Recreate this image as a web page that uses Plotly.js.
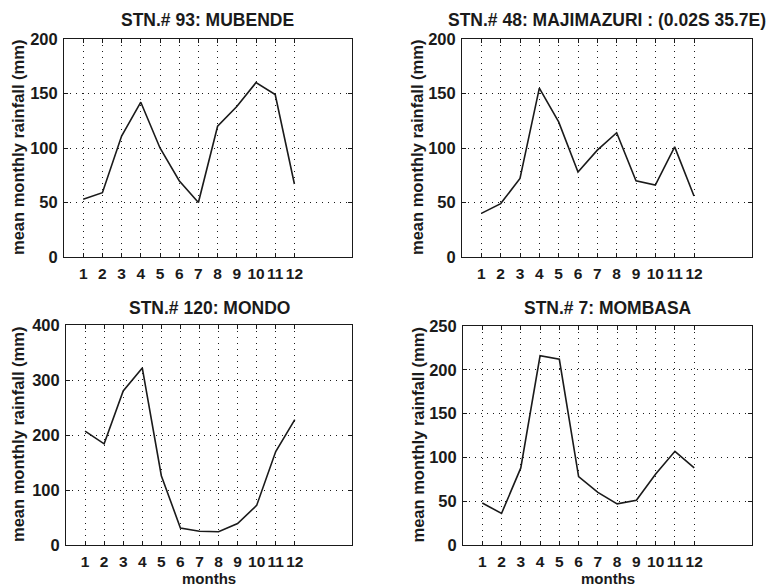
<!DOCTYPE html>
<html>
<head>
<meta charset="utf-8">
<script src="https://cdn.plot.ly/plotly-3.0.1.min.js"></script>
<style>html,body{margin:0;padding:0;background:#fff;}#chart{width:773px;height:588px;}</style>
</head>
<body>
<div id="chart"></div>
<script>
const months = [1,2,3,4,5,6,7,8,9,10,11,12];
const monthLabels = ["1","2","3","4","5","6","7","8","9","10","11","12"];
const mubende = [53,59,111,142,100,70,50,120,138,160,149,67];
const majimazuri = [40,49,72,155,124,78,98,114,70,66,101,56];
const mondo = [207,184,280,322,126,31,25,24,39,72,170,228];
const mombasa = [48,36,88,216,212,78,60,47,51,81,107,88];

const titles = ["STN.# 93: MUBENDE","STN.# 48: MAJIMAZURI : (0.02S 35.7E)","STN.# 120: MONDO","STN.# 7: MOMBASA"];
const yTicks = [[0,50,100,150,200],[0,50,100,150,200],[0,100,200,300,400],[0,50,100,150,200,250]];
const yMax = [200,200,400,250];
const series = [mubende, majimazuri, mondo, mombasa];
const yTitle = "mean monthly rainfall (mm)";
const xTitle = "months";

const W = 773, H = 588;
// pixel boxes [left, right, top, bottom]
const boxes = [[64,352,39,257],[462,752,39,257],[66,352,325,545],[463,752,326,545]];
const FONT = "Liberation Sans, Arial, Helvetica, sans-serif";
const ink = "#1a1a1a";

const data = [];
const layout = {
  width: W, height: H,
  margin: {l:0,r:0,t:0,b:0},
  paper_bgcolor: "#fff", plot_bgcolor: "#fff",
  showlegend: false,
  font: {family: FONT, color: ink, size: 16, weight: "bold"},
  annotations: []
};

series.forEach((vals, i) => {
  const n = i + 1;
  const xa = "x" + (n === 1 ? "" : n), ya = "y" + (n === 1 ? "" : n);
  data.push({x: months, y: vals, xaxis: xa, yaxis: ya, type: "scatter", mode: "lines",
    line: {color: ink, width: 1.6}, hoverinfo: "skip"});
  const b = boxes[i];
  const common = {
    showline: true, mirror: "ticks", linecolor: ink, linewidth: 1,
    ticks: "inside", ticklen: 4, tickcolor: ink, tickwidth: 1,
    showgrid: true, gridcolor: ink, gridwidth: 1, griddash: "1px,5px",
    zeroline: false, fixedrange: true,
    tickfont: {family: FONT, size: 16.5, color: ink, weight: "bold"}
  };
  layout["xaxis" + (n === 1 ? "" : n)] = Object.assign({}, common, {
    domain: [b[0]/W, b[1]/W], anchor: ya, range: [0, 15], tickangle: 0,
    tickmode: "array", tickvals: months, ticktext: monthLabels, ticklabelstandoff: 2,
    tickfont: {family: FONT, size: 15.5, color: ink, weight: "bold"}
  });
  layout["yaxis" + (n === 1 ? "" : n)] = Object.assign({}, common, {
    domain: [1 - b[3]/H, 1 - b[2]/H], anchor: xa, range: [0, yMax[i]],
    tickmode: "array", tickvals: yTicks[i], ticklabelstandoff: 2
  });
  const cx = (b[0] + b[1]) / 2 / W;
  layout.annotations.push({text: titles[i], xref: "paper", yref: "paper",
    x: cx, y: 1 - (i < 2 ? 20 : 308)/H, xanchor: "center", yanchor: "middle",
    showarrow: false, font: {family: FONT, size: 17.5, color: ink, weight: "bold"}});
  layout.annotations.push({text: yTitle, xref: "paper", yref: "paper",
    x: (i % 2 === 0 ? 18 : 417)/W, y: 1 - (b[2] + b[3]) / 2 / H, textangle: -90,
    xanchor: "center", yanchor: "middle", showarrow: false,
    font: {family: FONT, size: 16.5, color: ink, weight: "bold"}});
  if (i >= 2) {
    layout.annotations.push({text: xTitle, xref: "paper", yref: "paper",
      x: cx, y: 0, xanchor: "center", yanchor: "bottom", showarrow: false, borderpad: 0,
      font: {family: FONT, size: 15, color: ink, weight: "bold"}});
  }
});

Plotly.newPlot("chart", data, layout, {displayModeBar: false, staticPlot: true});
</script>
</body>
</html>
